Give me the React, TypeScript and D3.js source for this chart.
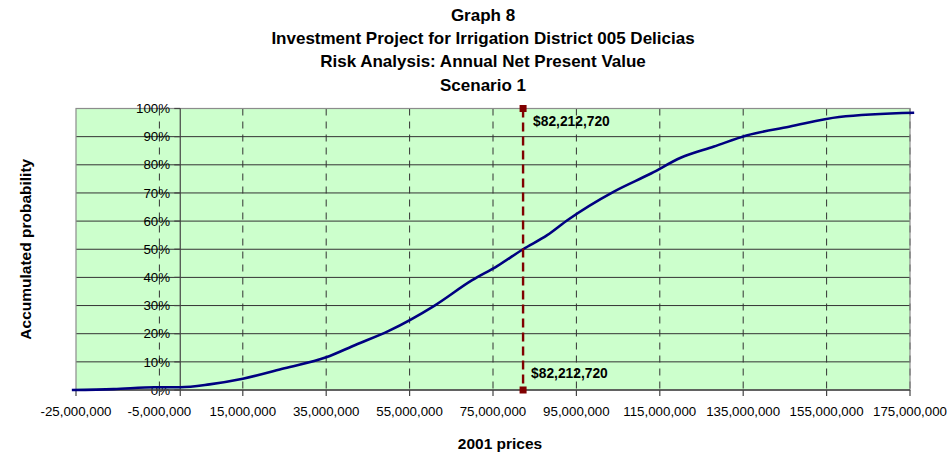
import React from 'react';
import * as d3 from 'd3';

// Cumulative distribution of the annual NPV (2001 prices)
const npvValues = [
  -26e6, -16e6, -6e6, 0, 7e6, 15e6, 25e6, 35e6, 42e6, 50e6, 61e6, 70e6,
  76e6, 82.2e6, 88e6, 93e6, 104e6, 113e6, 120e6, 128e6, 136e6, 146e6, 158e6, 176e6,
];
const accumProb = [
  0, 0.003, 0.01, 0.01, 0.02, 0.04, 0.077, 0.116, 0.16, 0.21, 0.30, 0.39,
  0.44, 0.50, 0.55, 0.605, 0.705, 0.77, 0.825, 0.865, 0.905, 0.935, 0.97, 0.985,
];

const xTicks = [-25e6, -5e6, 15e6, 35e6, 55e6, 75e6, 95e6, 115e6, 135e6, 155e6, 175e6];
const yTicks = [0, 0.1, 0.2, 0.3, 0.4, 0.5, 0.6, 0.7, 0.8, 0.9, 1];

const meanNpv = 82212720;
const meanLabel = '$82,212,720';

const titleLines = [
  'Graph 8',
  'Investment Project for Irrigation District 005 Delicias',
  'Risk Analysis: Annual Net Present Value',
  'Scenario 1',
];

const WIDTH = 951;
const HEIGHT = 454;
const FONT = '"Liberation Sans", Arial, sans-serif';

export default function App() {
  const plot = { left: 76, right: 910, top: 108.5, bottom: 390 };

  const x = d3.scaleLinear().domain([-25e6, 175e6]).range([plot.left, plot.right]);
  const y = d3.scaleLinear().domain([0, 1]).range([plot.bottom, plot.top]);

  const points = npvValues.map((v, i) => ({ v, p: accumProb[i] }));
  const line = d3.line<{ v: number; p: number }>()
    .x(d => x(d.v))
    .y(d => y(d.p))
    .curve(d3.curveMonotoneX);

  // excel style: plain hyphen for negatives
  const fmtX = (v: number) => d3.format(',')(v).replace('\u2212', '-');
  const fmtY = d3.format('.0%');
  const x0 = x(0);
  const mx = x(meanNpv);

  return (
    <svg
      width={WIDTH}
      height={HEIGHT}
      style={{ position: 'absolute', left: 0, top: 0, fontFamily: FONT }}
    >
      <rect width={WIDTH} height={HEIGHT} fill="#fff" />

      {/* titles */}
      {titleLines.map((t, i) => (
        <text
          key={t}
          x={483}
          y={21 + i * 23.2}
          textAnchor="middle"
          fontSize={17}
          fontWeight="bold"
        >
          {t}
        </text>
      ))}

      {/* plot background */}
      <rect
        x={plot.left}
        y={plot.top}
        width={plot.right - plot.left}
        height={plot.bottom - plot.top}
        fill="#ccffcc"
      />

      {/* horizontal gridlines */}
      {yTicks.slice(1, -1).map(t => (
        <line key={t} x1={plot.left} x2={plot.right} y1={y(t)} y2={y(t)} stroke="#333" strokeWidth={1} />
      ))}

      {/* vertical dashed gridlines */}
      {xTicks.slice(1).map(t => (
        <line
          key={t}
          x1={x(t)}
          x2={x(t)}
          y1={plot.top}
          y2={plot.bottom}
          stroke="#333"
          strokeWidth={1}
          strokeDasharray="7,6"
        />
      ))}

      {/* plot border */}
      <rect
        x={plot.left}
        y={plot.top}
        width={plot.right - plot.left}
        height={plot.bottom - plot.top}
        fill="none"
        stroke="#8c8c8c"
        strokeWidth={1.2}
      />

      {/* y axis at x = 0 */}
      <line x1={x0} x2={x0} y1={plot.top} y2={plot.bottom + 6} stroke="#444" strokeWidth={1.2} />
      {yTicks.map(t => (
        <g key={t}>
          <line x1={x0 - 6} x2={x0} y1={y(t)} y2={y(t)} stroke="#444" strokeWidth={1.2} />
          <text x={170} y={y(t)} dy="0.35em" textAnchor="end" fontSize={13.3}>
            {fmtY(t)}
          </text>
        </g>
      ))}

      {/* x axis */}
      <line x1={plot.left} x2={plot.right} y1={plot.bottom} y2={plot.bottom} stroke="#444" strokeWidth={1.6} />
      {xTicks.map(t => (
        <g key={t}>
          <line x1={x(t)} x2={x(t)} y1={plot.bottom} y2={plot.bottom + 6} stroke="#444" strokeWidth={1.2} />
          <text x={x(t)} y={411} dy="0.35em" textAnchor="middle" fontSize={13.3}>
            {fmtX(t)}
          </text>
        </g>
      ))}

      {/* cumulative curve */}
      <path d={line(points) ?? ''} fill="none" stroke="#000080" strokeWidth={2.6} />

      {/* mean marker line */}
      <line
        x1={mx}
        x2={mx}
        y1={y(1)}
        y2={y(0)}
        stroke="#800000"
        strokeWidth={2.4}
        strokeDasharray="9,5"
      />
      {[1, 0].map(p => (
        <rect key={p} x={mx - 3.5} y={y(p) - 3.5} width={7} height={7} fill="#800000" />
      ))}
      <text x={mx + 10} y={y(1) + 13} dy="0.35em" fontSize={13.8} fontWeight="bold">
        {meanLabel}
      </text>
      <text x={mx + 8} y={y(0) - 17} dy="0.35em" fontSize={13.8} fontWeight="bold">
        {meanLabel}
      </text>

      {/* axis titles */}
      <text
        transform={`translate(31,${(plot.top + plot.bottom) / 2}) rotate(-90)`}
        textAnchor="middle"
        fontSize={15.5}
        fontWeight="bold"
      >
        Accumulated probability
      </text>
      <text x={500} y={449} textAnchor="middle" fontSize={15.5} fontWeight="bold">
        2001 prices
      </text>
    </svg>
  );
}
